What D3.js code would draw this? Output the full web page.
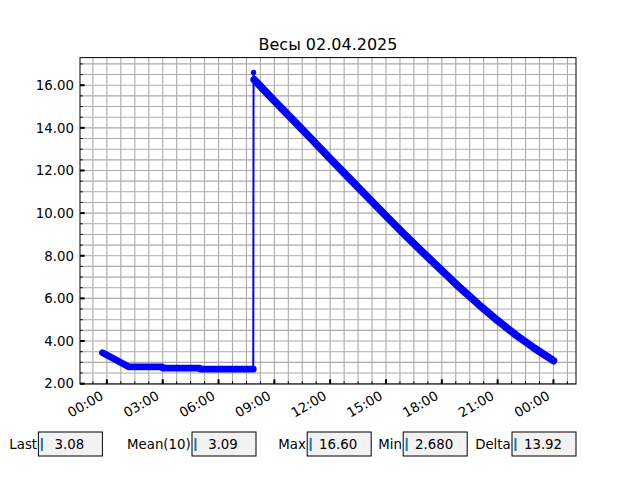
<!DOCTYPE html>
<html>
<head>
<meta charset="utf-8">
<script src="https://cdn.jsdelivr.net/npm/d3@7"></script>
<style>
  body { margin: 0; background: #fff; }
  svg { font-family: "DejaVu Sans", sans-serif; }
</style>
</head>
<body>
<div id="chart"></div>
<script>
// readings before the refill
const lowTimes = ["2025-04-01 23:46", "2025-04-02 00:30", "2025-04-02 01:10", "2025-04-02 02:00",
  "2025-04-02 02:59", "2025-04-02 03:00", "2025-04-02 04:00", "2025-04-02 04:59",
  "2025-04-02 05:00", "2025-04-02 06:00", "2025-04-02 07:00", "2025-04-02 07:52"];
const lowValues = [3.45, 3.11, 2.79, 2.79, 2.79, 2.73, 2.73, 2.73, 2.68, 2.68, 2.68, 2.68];

// the single spike reading
const spikeTimes = ["2025-04-02 07:53"];
const spikeValues = [16.60];

// readings after the refill
const fallTimes = ["2025-04-02 07:55", "2025-04-02 09:00", "2025-04-02 10:00", "2025-04-02 11:00",
  "2025-04-02 12:00", "2025-04-02 13:00", "2025-04-02 14:00", "2025-04-02 15:00",
  "2025-04-02 16:00", "2025-04-02 17:00", "2025-04-02 18:00", "2025-04-02 19:00",
  "2025-04-02 20:00", "2025-04-02 21:00", "2025-04-02 22:00", "2025-04-02 23:00",
  "2025-04-03 00:00"];
const fallValues = [16.26, 15.27, 14.37, 13.47, 12.56, 11.66, 10.76, 9.87,
  8.99, 8.14, 7.31, 6.48, 5.70, 4.96, 4.27, 3.65, 3.08];

// stats boxes under the chart
const statLabels = ["Last", "Mean(10)", "Max", "Min", "Delta"];
const statValues = ["3.08", "3.09", "16.60", "2.680", "13.92"];

const title = "Весы 02.04.2025";

const width = 640, height = 480;
const margin = {left: 80, right: 64, top: 57.6, bottom: 96};
const parseTime = d3.timeParse("%Y-%m-%d %H:%M");

const toPoints = (ts, vs) => ts.map((t, i) => ({t: parseTime(t), v: vs[i]}));
const low = toPoints(lowTimes, lowValues);
const spike = toPoints(spikeTimes, spikeValues);
const fall = toPoints(fallTimes, fallValues);
const all = low.concat(spike, fall);

// matplotlib style 5% margins
const tExt = d3.extent(all, d => d.t);
const tPad = (tExt[1] - tExt[0]) * 0.05;
const vExt = d3.extent(all, d => d.v);
const vPad = (vExt[1] - vExt[0]) * 0.05;

const x = d3.scaleTime()
  .domain([new Date(+tExt[0] - tPad), new Date(+tExt[1] + tPad)])
  .range([margin.left, width - margin.right]);
const y = d3.scaleLinear()
  .domain([vExt[0] - vPad, vExt[1] + vPad])
  .range([height - margin.bottom, margin.top]);

const svg = d3.select("#chart").append("svg")
  .attr("width", width)
  .attr("height", height);

const plotW = width - margin.left - margin.right;
const plotH = height - margin.top - margin.bottom;

// minor ticks: 45 min on x, 0.5 on y
const base = parseTime("2025-04-02 00:00");
const xMinor = [];
for (let k = -3; k <= 40; k++) {
  const d = new Date(+base + k * 45 * 60000);
  if (d >= x.domain()[0] && d <= x.domain()[1]) xMinor.push(d);
}
const yMinor = d3.range(2, 17.5, 0.5).filter(v => v >= y.domain()[0] && v <= y.domain()[1]);
const xMajor = x.ticks(d3.timeHour.every(3));
const yMajor = d3.range(2, 17, 2);

// grid
const grid = svg.append("g");
grid.selectAll(".gx").data(xMinor).join("line")
  .attr("x1", d => x(d)).attr("x2", d => x(d))
  .attr("y1", margin.top).attr("y2", height - margin.bottom)
  .attr("stroke", "#aaaaaa").attr("stroke-width", 1.1);
grid.selectAll(".gy").data(yMinor).join("line")
  .attr("x1", margin.left).attr("x2", width - margin.right)
  .attr("y1", d => y(d)).attr("y2", d => y(d))
  .attr("stroke", "#aaaaaa").attr("stroke-width", 1.1);

// data
const line = d3.line().x(d => x(d.t)).y(d => y(d.v));
svg.append("path")
  .attr("d", line(all))
  .attr("fill", "none")
  .attr("stroke", "#0000ff")
  .attr("stroke-width", 2);

// dense markers show as a thick band
[[low, 6.8], [fall, 7.6]].forEach(([seg, w]) => {
  svg.append("path")
    .attr("d", line(seg))
    .attr("fill", "none")
    .attr("stroke", "#0000ff")
    .attr("stroke-width", w)
    .attr("stroke-linecap", "round")
    .attr("stroke-linejoin", "round");
});
svg.selectAll(".dot").data(all).join("circle")
  .attr("cx", d => x(d.t))
  .attr("cy", d => y(d.v))
  .attr("r", 2.7)
  .attr("fill", "#0000ff");

// ticks (inward)
const ticks = svg.append("g");
ticks.selectAll(".mx").data(xMinor).join("line")
  .attr("x1", d => x(d)).attr("x2", d => x(d))
  .attr("y1", height - margin.bottom).attr("y2", height - margin.bottom - 2.7)
  .attr("stroke", "#000").attr("stroke-width", 1);
ticks.selectAll(".my").data(yMinor).join("line")
  .attr("x1", margin.left).attr("x2", margin.left + 2.7)
  .attr("y1", d => y(d)).attr("y2", d => y(d))
  .attr("stroke", "#000").attr("stroke-width", 1);
ticks.selectAll(".Mx").data(xMajor).join("line")
  .attr("x1", d => x(d)).attr("x2", d => x(d))
  .attr("y1", height - margin.bottom).attr("y2", height - margin.bottom - 4.7)
  .attr("stroke", "#000").attr("stroke-width", 2);
ticks.selectAll(".My").data(yMajor).join("line")
  .attr("x1", margin.left).attr("x2", margin.left + 4.7)
  .attr("y1", d => y(d)).attr("y2", d => y(d))
  .attr("stroke", "#000").attr("stroke-width", 2);

// frame
svg.append("rect")
  .attr("x", margin.left).attr("y", margin.top)
  .attr("width", plotW).attr("height", plotH)
  .attr("fill", "none").attr("stroke", "#000").attr("stroke-width", 1);

// tick labels
const fmt = d3.timeFormat("%H:%M");
svg.selectAll(".xl").data(xMajor).join("text")
  .attr("transform", d => `translate(${x(d) - 2.5},${height - margin.bottom + 14.5}) rotate(-30)`)
  .attr("text-anchor", "end")
  .attr("font-size", 13.33)
  .text(d => fmt(d));
svg.selectAll(".yl").data(yMajor).join("text")
  .attr("x", margin.left - 6)
  .attr("y", d => y(d))
  .attr("dy", "0.36em")
  .attr("text-anchor", "end")
  .attr("font-size", 13.33)
  .text(d => d.toFixed(2));

svg.append("text")
  .attr("x", margin.left + plotW / 2)
  .attr("y", margin.top - 8)
  .attr("text-anchor", "middle")
  .attr("font-size", 16)
  .text(title);

// text boxes
const boxLeft = [0.06, 0.30, 0.48, 0.63, 0.80];
const boxW = 0.1 * width, boxH = 0.05 * height, boxTop = height - 0.05 * height - boxH;
const boxes = svg.selectAll(".box").data(statLabels).join("g")
  .attr("transform", (d, i) => `translate(${boxLeft[i] * width},${boxTop})`);
boxes.append("rect")
  .attr("width", boxW).attr("height", boxH)
  .attr("fill", "#f2f2f2").attr("stroke", "#000").attr("stroke-width", 1);
boxes.append("line")
  .attr("x1", 3.5).attr("x2", 3.5).attr("y1", 6).attr("y2", 19)
  .attr("stroke", "#1f77b4").attr("stroke-width", 2);
boxes.append("text")
  .attr("x", -1.3).attr("y", boxH / 2).attr("dy", "0.36em")
  .attr("text-anchor", "end").attr("font-size", 13.33)
  .text(d => d);
boxes.append("text")
  .attr("x", boxW / 2 - 1).attr("y", boxH / 2).attr("dy", "0.36em")
  .attr("text-anchor", "middle").attr("font-size", 13.33)
  .text((d, i) => statValues[i]);
</script>
</body>
</html>
